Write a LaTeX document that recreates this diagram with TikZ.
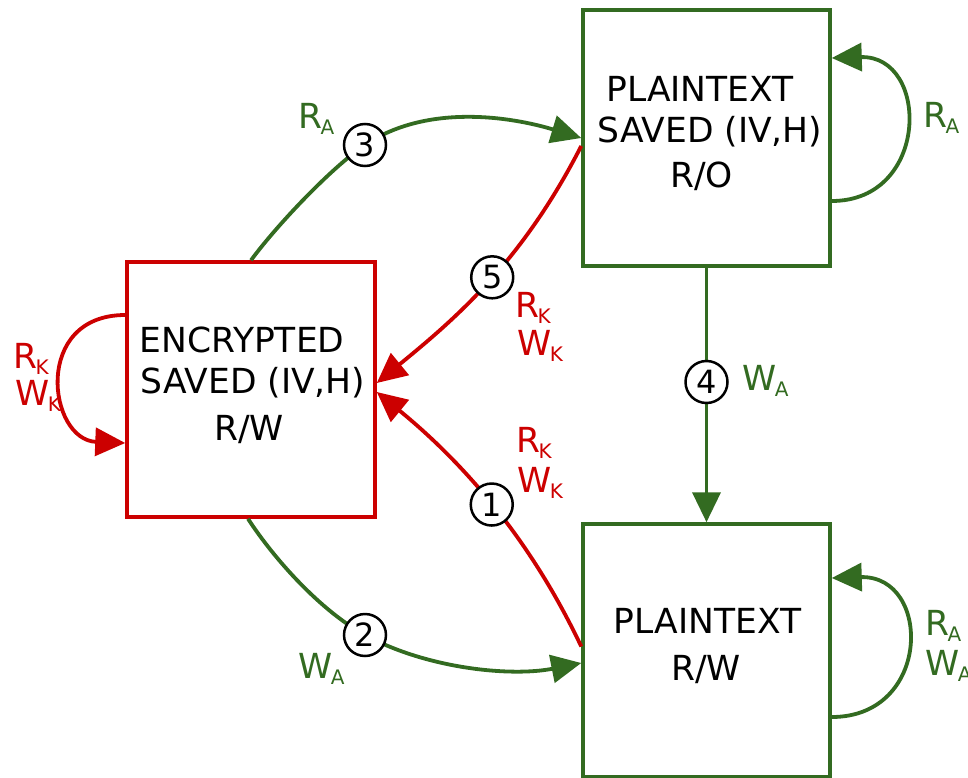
\documentclass[tikz,border=0pt]{standalone}
\usepackage{fontspec}
\setmainfont{DejaVu Sans}
\usetikzlibrary{arrows.meta}
\definecolor{grn}{RGB}{51,107,33}
\definecolor{rd}{RGB}{204,0,0}
\newcommand\sbx[1]{\kern-1.5pt\raisebox{-6pt}{\fontsize{20}{20}\selectfont #1}}
\begin{document}
\begin{tikzpicture}[x=1pt,y=-1pt,
  box/.style={draw, rectangle, line width=3.5pt, inner sep=0pt},
  txt/.style={font=\fontsize{34.5}{40}\selectfont, inner sep=0pt, anchor=base},
  lbl/.style={font=\fontsize{34.5}{40}\selectfont, inner sep=0pt, anchor=base west},
  num/.style={circle, draw=black, line width=2.5pt, fill=white, minimum size=42pt, inner sep=0pt, font=\fontsize{32}{32}\selectfont},
  conn/.style={line width=3.8pt, -{Triangle[length=30pt,width=28pt]}}]
\useasboundingbox (0,0) rectangle (968,778);
% boxes
\node[box, draw=rd, minimum width=248pt, minimum height=255pt] (enc) at (251,389.5) {};
\node[box, draw=grn, minimum width=247pt, minimum height=256pt] (pts) at (706.5,138) {};
\node[box, draw=grn, minimum width=247pt, minimum height=253pt] (ptw) at (706.5,650.5) {};
% box texts
\node[txt] (e1) at (242,352) {ENCRYPTED};
\node[txt] (e2) at (253,393) {SAVED (IV,H)};
\node[txt] (e3) at (249,440) {R/W};
\node[txt] (s1) at (700,102) {PLAINTEXT};
\node[txt] (s2) at (710,143) {SAVED (IV,H)};
\node[txt] (s3) at (701.5,187) {R/O};
\node[txt] (w1) at (707.5,633) {PLAINTEXT};
\node[txt] (w2) at (706,680) {R/W};
% circle positions
\coordinate (p2) at (365,635);
\coordinate (p3) at (365,145);
\coordinate (p4) at (706.5,382);
% connectors
\draw[conn, grn] (enc.north) .. controls (277,225) and (332,167) .. (p3)
   .. controls (427,103) and (512,117) .. (pts.west);
\draw[conn, rd] ([yshift=-8pt]pts.west) .. controls (522,262) and (455,319) ..
   node[num, pos=0.47, text=black] (n5) {5} ([yshift=6.5pt]enc.east);
\draw[conn, rd] ([yshift=4pt]ptw.west) .. controls (526,530) and (455,456) ..
   node[num, pos=0.48, text=black] (n1) {1} ([yshift=-2.5pt]enc.east);
\draw[conn, grn] ([xshift=-3pt]enc.south) .. controls (274.5,559.5) and (321,611) .. (p2)
   .. controls (426.6,668.6) and (511,677) .. ([yshift=-12.5pt]ptw.west);
\draw[conn, grn] (pts.south) -- (ptw.north);
% self loops
\draw[conn, rd] ([yshift=74.5pt]enc.west) .. controls (32,315) and (48,440) .. ([yshift=-53.5pt]enc.west);
\draw[conn, grn] ([yshift=-63pt]pts.east) .. controls (930,201) and (930,55) .. ([yshift=80pt]pts.east);
\draw[conn, grn] ([yshift=-66.5pt]ptw.east) .. controls (932,717) and (932,575) .. ([yshift=72.5pt]ptw.east);
% numbered circles
\node[num] (n2) at (p2) {2};
\node[num] (n3) at (p3) {3};
\node[num] (n4) at (p4) {4};
% labels
\node[lbl, text=grn] (l3) at (298,129) {R\sbx{A}};
\node[lbl, text=rd] (l5a) at (515,317) {R\sbx{K}};
\node[lbl, text=rd] (l5b) at (517,355) {W\sbx{K}};
\node[lbl, text=rd] (l1a) at (516,452) {R\sbx{K}};
\node[lbl, text=rd] (l1b) at (517,492) {W\sbx{K}};
\node[lbl, text=grn] (l2) at (298,678) {W\sbx{A}};
\node[lbl, text=grn] (l4) at (742,390) {W\sbx{A}};
\node[lbl, text=grn] (lt) at (923,128) {R\sbx{A}};
\node[lbl, text=grn] (lba) at (925,635) {R\sbx{A}};
\node[lbl, text=grn] (lbb) at (925,675) {W\sbx{A}};
\node[lbl, text=rd] (lla) at (13,368) {R\sbx{K}};
\node[lbl, text=rd] (llb) at (15,405) {W\sbx{K}};
\end{tikzpicture}
\end{document}
